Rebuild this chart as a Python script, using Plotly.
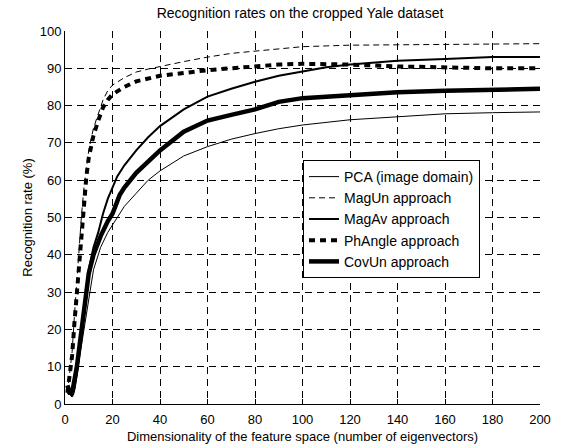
import plotly.graph_objects as go

# x positions (number of eigenvectors) at which values were read
x_pca = [1, 2, 3, 4, 5, 6, 8, 10, 12, 15, 18, 20, 22, 25, 30, 35, 40, 50, 60, 70, 80, 90, 100, 110, 120, 140, 160, 180, 200]
pca = [3, 2.5, 2, 4, 8, 12, 21, 29, 36, 42, 46, 48, 50, 53, 56.5, 60, 62.5, 66.5, 69, 71, 72.5, 73.8, 74.8, 75.6, 76.2, 77, 77.8, 78.1, 78.3]

x_magun = [1, 2, 3, 4, 5, 6, 7, 8, 9, 10, 12, 14, 16, 18, 20, 25, 30, 35, 40, 50, 60, 70, 80, 90, 100, 110, 120, 140, 160, 180, 200]
magun = [3, 8, 14, 24, 33, 43, 51, 58, 63, 68, 74, 78, 81.5, 84, 85.5, 87.5, 89, 89.8, 90.5, 91.8, 93, 94, 94.6, 95.2, 95.8, 96, 96.2, 96.3, 96.4, 96.5, 96.6]

x_magav = [1, 2, 3, 4, 5, 6, 7, 8, 9, 10, 12, 14, 16, 18, 20, 22, 25, 30, 35, 40, 50, 60, 70, 80, 90, 100, 110, 120, 140, 160, 180, 200]
magav = [3, 3, 2, 4, 8, 13, 18, 24, 30, 36, 42, 46, 51, 55, 58, 61, 64, 68, 71.5, 74.5, 79, 82.4, 84.5, 86.4, 88, 89.1, 90.3, 91, 92, 92.5, 93, 93]

x_phangle = [1, 2, 3, 4, 5, 6, 7, 8, 9, 10, 12, 14, 16, 18, 20, 25, 30, 40, 50, 60, 70, 80, 90, 100, 120, 140, 160, 180, 200]
phangle = [3, 8, 13, 22, 30, 40, 47, 55, 61, 66, 72, 76, 79.5, 81.5, 83, 85, 86.5, 88, 88.8, 89.5, 90, 90.5, 91, 91.2, 91, 90.5, 90.2, 90, 90]

x_covun = [1, 2, 3, 4, 5, 6, 8, 10, 12, 15, 18, 20, 23, 25, 30, 35, 40, 50, 60, 70, 80, 90, 100, 120, 140, 160, 180, 200]
covun = [5, 3, 3, 6, 10, 15, 25, 35, 40, 45, 49, 51, 56, 58, 62, 65, 68, 73, 76, 77.5, 79, 81, 82, 82.8, 83.6, 84, 84.3, 84.5]

x_ticks = list(range(0, 201, 20))
y_ticks = list(range(0, 101, 10))

FONT = "Liberation Sans, Arial, sans-serif"

fig = go.Figure()
fig.add_trace(go.Scatter(x=x_pca, y=pca, mode="lines", name="PCA (image domain)",
                         line=dict(color="black", width=1)))
fig.add_trace(go.Scatter(x=x_magun, y=magun, mode="lines", name="MagUn approach",
                         line=dict(color="black", width=1, dash="6px,4px")))
fig.add_trace(go.Scatter(x=x_magav, y=magav, mode="lines", name="MagAv approach",
                         line=dict(color="black", width=2)))
fig.add_trace(go.Scatter(x=x_phangle, y=phangle, mode="lines", name="PhAngle approach",
                         line=dict(color="black", width=4, dash="6px,5px")))
fig.add_trace(go.Scatter(x=x_covun, y=covun, mode="lines", name="CovUn approach",
                         line=dict(color="black", width=4.5)))

axis_common = dict(
    showgrid=True, gridcolor="black", gridwidth=1, griddash="7px,5px",
    showline=True, linecolor="black", linewidth=1,
    ticks="inside", ticklen=5, tickcolor="black",
    zeroline=False, automargin=False,
    tickfont=dict(family=FONT, size=13, color="black"),
)

fig.update_layout(
    width=561, height=448,
    margin=dict(l=65, r=21, t=31, b=44),
    paper_bgcolor="white", plot_bgcolor="white",
    font=dict(family=FONT, size=13, color="black"),
    title=dict(text="Recognition rates on the cropped Yale dataset", x=300 / 561, xanchor="center",
               y=1 - 13 / 448, yanchor="middle", font=dict(family=FONT, size=14, color="black")),
    xaxis=dict(range=[0, 200], tickvals=x_ticks, ticklabelstandoff=3,
               title=dict(text="Dimensionality of the feature space (number of eigenvectors)",
                          standoff=6, font=dict(family=FONT, size=13)),
               **axis_common),
    yaxis=dict(range=[0, 100], tickvals=y_ticks,
               title=dict(text="Recognition rate (%)", standoff=4, font=dict(family=FONT, size=13)),
               **axis_common),
    legend=dict(x=(303 - 65) / 475, y=(404 - 160) / 373, xanchor="left", yanchor="top",
                bgcolor="white", bordercolor="black", borderwidth=1,
                font=dict(family=FONT, size=14, color="black"),
                tracegroupgap=0),
    showlegend=True,
)

fig.write_html("out.html", config={"displayModeBar": False},
               post_script="document.body.style.margin='0';document.body.style.padding='0';")
